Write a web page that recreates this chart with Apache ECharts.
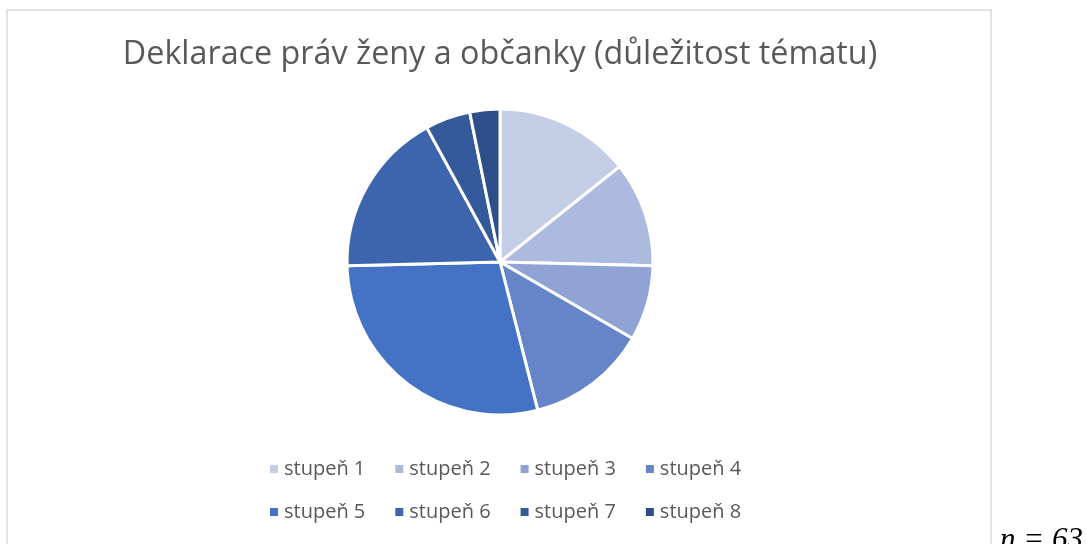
<!DOCTYPE html>
<html>
<head>
<meta charset="utf-8">
<script src="https://cdn.jsdelivr.net/npm/echarts@6/dist/echarts.min.js"></script>
<style>
  html, body { margin: 0; padding: 0; background: #fff; }
  #chart { width: 1087px; height: 544px; }
</style>
</head>
<body>
<div id="chart"></div>
<script>
// stupně důležitosti a počty odpovědí (n = 63)
var categories = ["stupeň 1", "stupeň 2", "stupeň 3", "stupeň 4", "stupeň 5", "stupeň 6", "stupeň 7", "stupeň 8"];
var counts = [9, 7, 5, 8, 18, 11, 3, 2];
var colors = ["#c4cde6", "#adbadf", "#8fa4d4", "#6685c9", "#4472c4", "#3d65ae", "#355a9c", "#2e4e89"];

var chart = echarts.init(document.getElementById("chart"));
var font = "'Open Sans', 'Noto Sans', sans-serif";

chart.setOption({
  animation: false,
  color: colors,
  title: {
    text: "Deklarace práv ženy a občanky (důležitost tématu)",
    left: 495,
    textAlign: "center",
    top: 34,
    textStyle: { fontFamily: font, fontSize: 32.3, fontWeight: "normal", color: "#595959" }
  },
  legend: [
    {
      data: categories.slice(0, 4),
      left: 263, top: 454,
      icon: "rect", itemWidth: 10, itemHeight: 10, itemGap: 28,
      textStyle: { fontFamily: font, fontSize: 20, color: "#595959" }
    },
    {
      data: categories.slice(4),
      left: 263, top: 497,
      icon: "rect", itemWidth: 10, itemHeight: 10, itemGap: 28,
      textStyle: { fontFamily: font, fontSize: 20, color: "#595959" }
    }
  ],
  graphic: [
    {
      type: "rect",
      shape: { x: 7, y: 10, width: 984, height: 560 },
      style: { fill: "none", stroke: "#d9d9d9", lineWidth: 1.5 },
      silent: true
    },
    {
      type: "text",
      left: 1000, top: 525,
      style: { text: "n = 63", font: "italic 31px 'Liberation Serif', serif", fill: "#000" }
    }
  ],
  series: [{
    type: "pie",
    center: [500, 262],
    radius: 153,
    startAngle: 90,
    clockwise: true,
    label: { show: false },
    labelLine: { show: false },
    itemStyle: { borderColor: "#fff", borderWidth: 3 },
    data: categories.map(function (c, i) { return { name: c, value: counts[i] }; })
  }]
});
</script>
</body>
</html>
